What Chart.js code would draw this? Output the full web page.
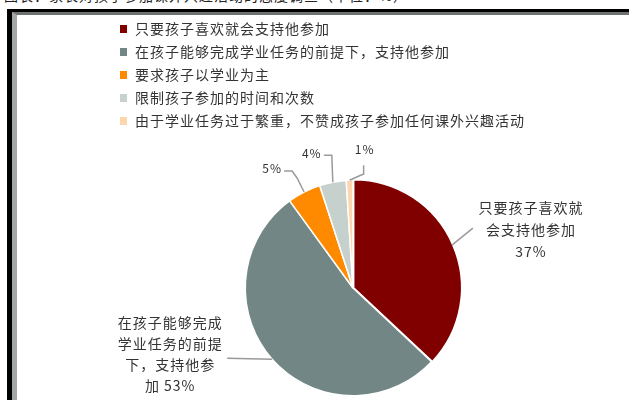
<!DOCTYPE html>
<html>
<head>
<meta charset="utf-8">
<script src="https://cdn.jsdelivr.net/npm/chart.js@4"></script>
<style>
html, body { margin: 0; padding: 0; background: #fff; }
#wrap { position: relative; width: 629px; height: 400px; overflow: hidden; }
#title { position: absolute; left: 4px; top: -15px; font: 14px "Noto Sans CJK SC"; color: #222; white-space: nowrap; letter-spacing: 1px; }
#frame { position: absolute; left: 7px; top: 9px; right: -10px; bottom: -10px; border-left: 5px solid #000; border-top: 3px solid #000; }
#frame2 { position: absolute; left: 0; top: 0; right: 0; bottom: 0; border-left: 5px solid #a2a6a5; border-top: 3px solid #6e7372; }
canvas { position: absolute; left: 0; top: 0; }
</style>
</head>
<body>
<div id="wrap">
  <div id="title">图表：家长对孩子参加课外兴趣活动的态度调查（单位：%）</div>
  <div id="frame"><div id="frame2"></div></div>
  <canvas id="pie" width="629" height="400"></canvas>
</div>
<script>
var categories = [
    '只要孩子喜欢就会支持他参加',
    '在孩子能够完成学业任务的前提下，支持他参加',
    '要求孩子以学业为主',
    '限制孩子参加的时间和次数',
    '由于学业任务过于繁重，不赞成孩子参加任何课外兴趣活动'
];
var shares = [37, 53, 5, 4, 1];
var sliceLabels = [
    ['只要孩子喜欢就', '会支持他参加', '37%'],
    ['在孩子能够完成', '学业任务的前提', '下，支持他参', '加 53%'],
    ['5%'],
    ['4%'],
    ['1%']
];
var colors = ['#800000', '#728785', '#ff8a00', '#c6d1cd', '#fdd5ae'];

(function() {
    var FONT = '14px "Noto Sans CJK SC", "Noto Sans", sans-serif';
    var SMALL = '12px "Noto Sans CJK SC", "Noto Sans", sans-serif';

    /* leader line bends and text centre, relative to the slice's outer mid point */
    var labelLayout = [
        { pts: [[21, -17]], tx: 79, ty: -38, lh: 22, font: FONT },
        { pts: [[-45, -1]], tx: -102, ty: -37, lh: 21, font: FONT },
        { pts: [[-7, -14], [-12, -21], [-20, -21]], tx: -32, ty: -24, lh: 14, font: SMALL },
        { pts: [[-1, -27], [-9, -27]], tx: -21, ty: -29, lh: 14, font: SMALL },
        { pts: [[11, -5], [14, -6], [14, -15]], tx: 15, ty: -31, lh: 14, font: SMALL }
    ];

    var legendPlugin = {
        id: 'listLegend',
        afterDraw: function(chart) {
            var ctx = chart.ctx;
            ctx.save();
            ctx.font = FONT;
            try { ctx.letterSpacing = '1px'; } catch (e) {}
            ctx.textBaseline = 'middle';
            ctx.textAlign = 'left';
            categories.forEach(function(name, i) {
                var y = 29 + i * 23;
                ctx.fillStyle = colors[i];
                ctx.fillRect(120, y - 4, 7, 8);
                ctx.fillStyle = '#333';
                ctx.fillText(name, 135, y);
            });
            ctx.restore();
        }
    };

    var labelPlugin = {
        id: 'sliceLabels',
        afterDatasetsDraw: function(chart) {
            var ctx = chart.ctx;
            var arcs = chart.getDatasetMeta(0).data;
            ctx.save();
            arcs.forEach(function(arc, i) {
                var p = arc.getProps(['x', 'y', 'startAngle', 'endAngle', 'outerRadius'], true);
                var mid = (p.startAngle + p.endAngle) / 2;
                var ex = p.x + Math.cos(mid) * p.outerRadius;
                var ey = p.y + Math.sin(mid) * p.outerRadius;
                var lay = labelLayout[i];
                ctx.strokeStyle = '#9a9a9a';
                ctx.lineWidth = 1.5;
                ctx.beginPath();
                ctx.moveTo(ex, ey);
                lay.pts.forEach(function(pt) { ctx.lineTo(ex + pt[0], ey + pt[1]); });
                ctx.stroke();
                ctx.font = lay.font;
                try { ctx.letterSpacing = '1px'; } catch (e) {}
                ctx.fillStyle = '#333';
                ctx.textAlign = 'center';
                ctx.textBaseline = 'middle';
                sliceLabels[i].forEach(function(line, j) {
                    ctx.fillText(line, ex + lay.tx, ey + lay.ty + j * lay.lh);
                });
            });
            ctx.restore();
        }
    };

    new Chart(document.getElementById('pie').getContext('2d'), {
        type: 'pie',
        data: {
            labels: categories,
            datasets: [{
                data: shares,
                backgroundColor: colors,
                borderColor: '#fff',
                borderWidth: 1.5,
                offset: [3, 0, 0, 0, 0]
            }]
        },
        options: {
            responsive: false,
            animation: false,
            layout: { padding: { left: 243, right: 166, top: 178, bottom: 2 } },
            plugins: {
                legend: { display: false },
                tooltip: { enabled: false }
            }
        },
        plugins: [legendPlugin, labelPlugin]
    });
})();
</script>
</body>
</html>
